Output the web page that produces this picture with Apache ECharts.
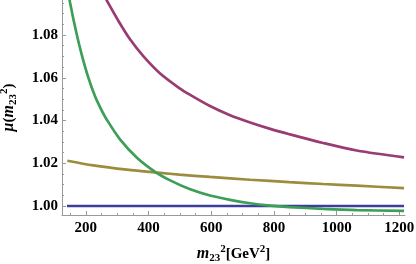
<!DOCTYPE html>
<html>
<head>
<meta charset="utf-8">
<script src="https://cdn.jsdelivr.net/npm/echarts@6/dist/echarts.min.js"></script>
<style>html,body{margin:0;padding:0;background:#fff;}#c{width:416px;height:264px;}</style>
</head>
<body>
<div id="c"></div>
<script>
// ---- data ----
var blueX = [140, 1215];
var blueY = [1.000, 1.000];

var purpleX = [262, 272, 304, 341, 384, 437, 498, 533, 596, 660, 724, 788, 849, 957, 1064, 1215];
var purpleY = [1.0975, 1.0948, 1.0866, 1.0780, 1.0700, 1.0620, 1.0552, 1.0520, 1.0468, 1.0425, 1.0391, 1.0361, 1.0336, 1.0295, 1.0260, 1.0228];

var oliveX = [141, 224, 331, 437, 498, 596, 724, 849, 957, 1064, 1215];
var oliveY = [1.0212, 1.0190, 1.0170, 1.0155, 1.0147, 1.0136, 1.0123, 1.0112, 1.0103, 1.0095, 1.0084];

var greenX = [142, 150, 163, 176, 190, 208, 230, 248, 267, 309, 363, 421, 469, 533, 596, 660, 724, 788, 849, 957, 1064, 1215];
var greenY = [1.1012, 1.0950, 1.0856, 1.0772, 1.0691, 1.0601, 1.0511, 1.0455, 1.0404, 1.0312, 1.0226, 1.0160, 1.0120, 1.0078, 1.0049, 1.0029, 1.0013, 1.0002, 0.9995, 0.9987, 0.9981, 0.9977];

var xMajorTicks = [200, 400, 600, 800, 1000, 1200];
var xMinorTicks = [150, 250, 300, 350, 450, 500, 550, 650, 700, 750, 850, 900, 950, 1050, 1100, 1150];
var yMajorTicks = [1.00, 1.02, 1.04, 1.06, 1.08];
var yMinorTicks = [1.005, 1.01, 1.015, 1.025, 1.03, 1.035, 1.045, 1.05, 1.055, 1.065, 1.07, 1.075, 1.085, 1.09, 1.095];

function pairs(xs, ys) { return xs.map(function (x, i) { return [x, ys[i]]; }); }

var FF = '"Liberation Serif", "DejaVu Serif", serif';
var AX = '#999999';
var rich = {
  b: { fontFamily: FF, fontWeight: 'bold', fontSize: 15, color: '#000', lineHeight: 20 },
  i: { fontFamily: FF, fontWeight: 'bold', fontStyle: 'italic', fontSize: 16, color: '#000', lineHeight: 20 },
  g: { fontFamily: FF, fontWeight: 'bold', fontStyle: 'italic', fontSize: 16, color: '#000', lineHeight: 20 },
  s: { fontFamily: FF, fontWeight: 'bold', fontSize: 11, color: '#000', verticalAlign: 'bottom' },
  p: { fontFamily: FF, fontWeight: 'bold', fontSize: 11, color: '#000', verticalAlign: 'top' }
};

var chart = echarts.init(document.getElementById('c'));
var xMin = 124, xMax = 1218, yMin = 0.9958, yMax = 1.0964;
function plain(v) { return String(Math.round(v)); }

chart.setOption({
  animation: false,
  backgroundColor: '#fff',
  grid: { left: 62, right: 11, top: 0, bottom: 49, containLabel: false, outerBoundsMode: 'none' },
  xAxis: [
    {
      type: 'value', min: xMin, max: xMax, position: 'bottom',
      name: '{i|m}{s|23}{p|2}{b|[GeV}{p|2}{b|]}',
      nameLocation: 'middle', nameGap: 29,
      nameTextStyle: { rich: rich },
      axisLine: { show: true, lineStyle: { color: AX, width: 1 } },
      axisTick: { show: true, inside: true, length: 4, customValues: xMajorTicks, lineStyle: { color: AX } },
      axisLabel: { show: true, customValues: xMajorTicks, margin: 6, fontFamily: FF, fontWeight: 'bold', fontSize: 15, color: '#000', formatter: plain },
      splitLine: { show: false }
    },
    {
      type: 'value', min: xMin, max: xMax, position: 'bottom',
      axisLine: { show: false },
      axisTick: { show: true, inside: true, length: 2, customValues: xMinorTicks, lineStyle: { color: AX } },
      axisLabel: { show: false },
      splitLine: { show: false }
    }
  ],
  yAxis: [
    {
      type: 'value', min: yMin, max: yMax, position: 'left',
      name: '{g|μ}{b|(}{i|m}{s|23}{p|2}{b|)}',
      nameLocation: 'middle', nameGap: 43, nameRotate: 90,
      nameTextStyle: { rich: rich },
      axisLine: { show: true, lineStyle: { color: AX, width: 1 } },
      axisTick: { show: true, inside: true, length: 4, customValues: yMajorTicks, lineStyle: { color: AX } },
      axisLabel: { show: true, customValues: yMajorTicks, margin: 4, fontFamily: FF, fontWeight: 'bold', fontSize: 15, color: '#000',
        formatter: function (v) { return v.toFixed(2); } },
      splitLine: { show: false }
    },
    {
      type: 'value', min: yMin, max: yMax, position: 'left',
      axisLine: { show: false },
      axisTick: { show: true, inside: true, length: 2, customValues: yMinorTicks, lineStyle: { color: AX } },
      axisLabel: { show: false },
      splitLine: { show: false }
    }
  ],
  series: [
    { type: 'line', data: pairs(blueX, blueY), showSymbol: false, clip: true,
      lineStyle: { color: '#3d3d9c', width: 2.7 } },
    { type: 'line', data: pairs(purpleX, purpleY), showSymbol: false, smooth: 0.3, clip: true,
      lineStyle: { color: '#9a3b73', width: 2.7 } },
    { type: 'line', data: pairs(oliveX, oliveY), showSymbol: false, smooth: 0.3, clip: true,
      lineStyle: { color: '#9c8d3c', width: 2.7 } },
    { type: 'line', data: pairs(greenX, greenY), showSymbol: false, smooth: 0.3, clip: true,
      lineStyle: { color: '#3d9e57', width: 2.7 } }
  ]
});
</script>
</body>
</html>
